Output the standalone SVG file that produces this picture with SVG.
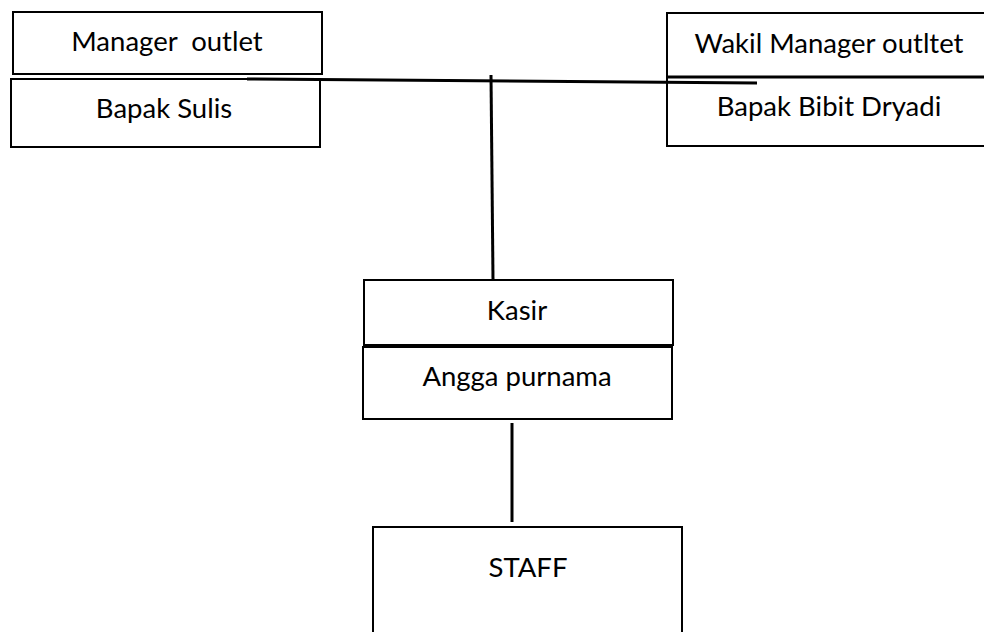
<svg xmlns="http://www.w3.org/2000/svg" width="984" height="632" viewBox="0 0 984 632">
<style>
.box{fill:#fff;stroke:#000;stroke-width:2}
.lbl{font-family:Lato,"Liberation Sans",sans-serif;font-size:27.5px;fill:#000;text-anchor:middle}
.con{stroke:#000;stroke-width:3;fill:none}
</style>
<rect width="984" height="632" fill="#fff"/>
<g id="manager">
<rect class="box" x="13" y="12" width="309" height="62"/>
<text class="lbl" x="167" y="51" xml:space="preserve">Manager  outlet</text>
</g>
<g id="bapak-sulis">
<rect class="box" x="11" y="79" width="309" height="68"/>
<text class="lbl" x="164" y="118">Bapak Sulis</text>
</g>
<g id="wakil">
<rect class="box" x="667" y="13" width="330" height="64"/>
<text class="lbl" x="829" y="53">Wakil Manager outltet</text>
</g>
<g id="bapak-bibit">
<rect class="box" x="667" y="77" width="330" height="69"/>
<text class="lbl" x="829" y="116">Bapak Bibit Dryadi</text>
</g>
<g id="kasir">
<rect class="box" x="364" y="280" width="309" height="65"/>
<text class="lbl" x="517" y="320">Kasir</text>
</g>
<g id="angga">
<rect class="box" x="363" y="347" width="309" height="72"/>
<text class="lbl" x="517" y="386">Angga purnama</text>
</g>
<g id="staff">
<rect class="box" x="373" y="527" width="309" height="120"/>
<text class="lbl" x="528" y="577">STAFF</text>
</g>
<g id="connectors">
<line class="con" x1="247" y1="79" x2="757" y2="83"/>
<line class="con" x1="667" y1="77" x2="984" y2="77"/>
<line class="con" x1="491" y1="75" x2="493" y2="280"/>
<line class="con" x1="512" y1="423" x2="512" y2="522"/>
</g>
</svg>
